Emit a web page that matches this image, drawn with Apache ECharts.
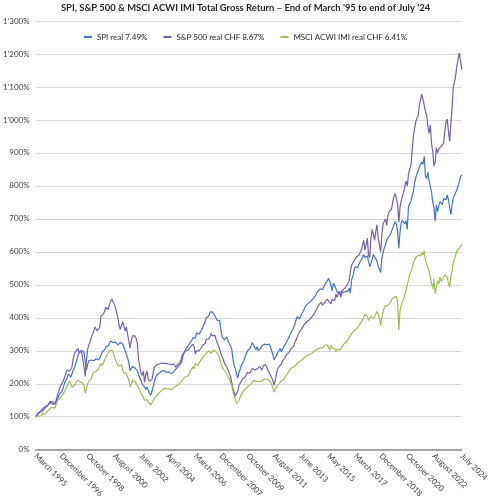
<!DOCTYPE html>
<html>
<head>
<meta charset="utf-8">
<script src="https://cdn.jsdelivr.net/npm/echarts@6/dist/echarts.min.js"></script>
<style>
html,body{margin:0;padding:0;background:#fff;}
#chart{width:491px;height:500px;}
</style>
</head>
<body>
<div id="chart"></div>
<script>
// Monthly data, March 1995 .. July 2024 (each row = one calendar year)
const spiReal = [
100,106,111,114,117,122,125,127,130,133,
135,137,141,146,147,142,137,146,152,162,170,175,
178,190,204,210,217,230,224,220,217,240,248,258,
272,285,295,298,302,302,295,265,242,258,270,268,
272,267,270,274,276,277,272,278,285,297,300,303,
312,307,315,322,330,328,325,322,326,330,318,315,
325,330,320,310,300,290,278,265,240,245,252,250,
248,245,240,228,218,210,200,205,190,183,190,180,
172,165,175,190,205,218,225,230,232,236,238,240,
240,238,235,234,236,233,230,232,236,240,245,250,
253,258,262,272,288,295,305,310,315,322,326,332,
340,345,338,355,352,350,355,362,370,380,387,400,
395,405,417,422,418,412,407,404,392,387,392,365,
343,338,333,335,342,330,322,318,305,275,255,245,
230,217,235,245,257,262,270,282,288,300,298,306,
305,325,318,310,303,312,300,305,308,315,318,320,
322,318,315,320,312,300,288,272,276,287,294,298,
307,297,305,312,317,325,332,337,347,355,362,367,
378,392,403,407,397,405,413,420,428,437,440,443,
445,450,452,457,462,467,472,480,485,488,492,485,
490,502,507,512,520,510,498,482,505,500,490,477,
472,478,470,484,476,478,480,476,480,490,475,515,
525,542,555,553,552,562,570,575,582,592,583,586,
588,572,555,565,578,592,585,580,572,555,548,537,
580,598,612,622,635,642,648,652,662,672,682,692,
685,662,610,660,688,695,690,685,695,668,738,740,
752,770,782,808,825,838,845,858,862,872,865,890,
830,822,842,815,800,782,752,735,693,742,722,740,
752,748,743,762,768,758,773,758,735,713,743,763,
772,778,788,800,812,828,833
];
const sp500RealChf = [
100,104,108,112,114,116,119,123,127,131,
134,137,147,143,138,133,140,150,165,177,188,196,
202,210,220,232,242,247,238,240,250,275,290,297,
302,307,295,292,297,275,250,222,270,305,318,327,
340,350,360,372,368,360,355,372,405,400,412,420,
432,437,425,440,450,457,452,440,430,415,400,375,
365,362,388,385,360,372,350,330,308,330,345,348,
345,338,325,275,255,232,225,238,205,228,238,215,
208,205,212,230,250,255,258,262,260,265,263,260,
262,258,262,265,260,266,258,262,260,255,250,258,
258,262,272,285,292,298,300,305,302,308,312,318,
320,312,290,300,295,300,305,310,317,320,322,335,
338,335,342,352,345,342,347,335,325,315,305,292,
282,275,262,267,250,252,232,222,205,185,175,163,
165,178,195,202,207,215,212,220,228,235,237,232,
240,247,245,242,236,245,250,252,246,242,255,260,
258,250,240,236,226,218,210,196,212,232,245,252,
250,260,270,267,278,287,283,293,300,307,305,312,
325,332,340,350,357,362,368,372,380,385,388,392,
393,398,402,407,412,417,425,432,440,444,447,438,
442,448,452,457,450,445,442,455,457,452,472,462,
465,480,462,478,485,487,492,498,505,512,540,560,
565,572,568,585,582,590,598,605,610,635,605,622,
642,590,582,640,668,652,635,662,682,640,620,600,
652,685,692,700,680,712,722,718,730,752,768,777,
772,745,690,735,755,768,782,800,815,800,835,850,
862,905,950,972,995,1005,1012,1045,1062,1078,1083,1045,
1025,1015,980,960,985,930,905,860,870,915,900,912,
910,920,915,930,965,995,1003,965,935,990,1035,1100,
1115,1135,1165,1185,1203,1208,1153
];
const msciAcwiImiRealChf = [
100,98,102,106,103,107,110,109,108,114,
118,121,126,131,128,122,126,138,147,152,157,160,
165,170,177,183,192,200,208,200,190,185,195,203,
207,212,208,205,208,202,195,172,185,200,207,212,
215,228,235,240,238,232,245,255,262,255,262,272,
278,288,290,300,305,302,295,290,272,262,265,252,
252,258,240,232,238,232,220,212,190,198,210,212,
208,202,195,190,180,170,168,160,150,156,152,145,
140,135,138,148,155,160,165,170,172,178,180,182,
185,184,186,188,185,184,182,185,188,190,193,195,
198,200,205,210,215,218,222,225,223,232,240,245,
252,245,262,260,255,262,268,275,280,285,288,292,
295,300,302,292,296,302,300,297,292,287,280,262,
252,245,240,235,228,222,215,205,195,178,162,150,
140,137,150,160,167,172,180,184,187,190,193,197,
200,205,210,205,208,212,207,203,206,210,212,215,
215,217,212,210,206,198,186,175,180,190,195,200,
205,210,215,212,220,225,230,237,242,247,252,250,
255,257,260,265,267,270,272,276,280,282,285,287,
288,290,292,295,298,302,300,305,307,310,312,308,
307,317,312,317,318,302,317,308,312,307,297,305,
300,302,308,312,318,322,325,327,332,340,345,352,
355,360,362,366,372,376,380,387,392,402,410,412,
405,392,390,405,402,398,405,412,420,410,400,377,
400,420,430,437,432,437,442,447,455,458,462,467,
465,450,362,420,440,450,458,470,485,480,515,533,
540,550,565,575,583,588,590,593,588,598,590,603,
575,563,565,543,523,505,488,518,473,495,513,503,
523,510,508,523,530,533,523,505,493,528,543,568,
578,590,603,608,612,618,623
];
const seriesNames = ['SPI real 7.49%', 'S&P 500 real CHF 8.67%', 'MSCI ACWI IMI real CHF 6.41%'];
const tickLabels = ['March 1995','December 1996','October 1998','August 2000','June 2002','April 2004',
  'March 2006','December 2007','October 2009','August 2011','June 2013','May 2015','March 2017',
  'December 2018','October 2020','August 2022','July 2024'];
const monthNames = ['January','February','March','April','May','June','July','August','September','October','November','December'];

// month categories March 1995 .. July 2024
const categories = [];
for (let y = 1995; y <= 2024; y++) {
  for (let mo = 0; mo < 12; mo++) {
    if (y === 1995 && mo < 2) continue;
    if (y === 2024 && mo > 6) continue;
    categories.push(monthNames[mo] + ' ' + y);
  }
}
[spiReal, sp500RealChf, msciAcwiImiRealChf].forEach((a, i) => {
  if (a.length !== categories.length) throw new Error('series ' + i + ' length ' + a.length + ' != ' + categories.length);
});
const tickIdx = new Set(tickLabels.map(t => categories.indexOf(t)));

const colors = ['#4472C4', '#7460A6', '#9BBB59'];
const font = 'Lato, "Open Sans", sans-serif';

function fmtPct(v) {
  const s = String(v);
  return (v >= 1000 ? s.slice(0, -3) + "'" + s.slice(-3) : s) + '%';
}

const chart = echarts.init(document.getElementById('chart'), null, {renderer: 'canvas'});
chart.setOption({
  animation: false,
  color: colors,
  textStyle: {fontFamily: font},
  title: {
    text: "SPI, S&P 500 & MSCI ACWI IMI Total Gross Return \u2013 End of March '95 to end of July '24",
    left: 'center', top: 0, padding: [3, 5, 3, 5],
    textStyle: {fontFamily: font, fontSize: 9.45, fontWeight: 'bold', color: '#262626'}
  },
  legend: {
    top: 28, left: 'center',
    icon: 'rect', itemWidth: 8, itemHeight: 2, itemGap: 16,
    textStyle: {fontFamily: font, fontSize: 8, color: '#262626'},
    data: seriesNames
  },
  grid: {left: 33, right: 25, top: 21, bottom: 46, containLabel: false},
  xAxis: {
    type: 'category',
    data: categories,
    boundaryGap: false,
    axisTick: {show: false},
    axisLine: {show: true, lineStyle: {color: '#8c8c8c', width: 1.5}},
    axisLabel: {
      interval: (idx) => tickIdx.has(idx),
      rotate: -45, margin: 5,
      fontFamily: font, fontSize: 8, color: '#404040'
    },
    splitLine: {show: false}
  },
  yAxis: {
    type: 'value', min: 0, max: 1300, interval: 100,
    axisLine: {show: false}, axisTick: {show: false},
    axisLabel: {formatter: fmtPct, fontFamily: font, fontSize: 8, color: '#404040', margin: 6},
    splitLine: {lineStyle: {color: '#d9d9d9', width: 1}}
  },
  series: [
    {name: seriesNames[0], type: 'line', data: spiReal, showSymbol: false, lineStyle: {width: 1.2}},
    {name: seriesNames[1], type: 'line', data: sp500RealChf, showSymbol: false, lineStyle: {width: 1.2}},
    {name: seriesNames[2], type: 'line', data: msciAcwiImiRealChf, showSymbol: false, lineStyle: {width: 1.2}}
  ]
});
</script>
</body>
</html>
